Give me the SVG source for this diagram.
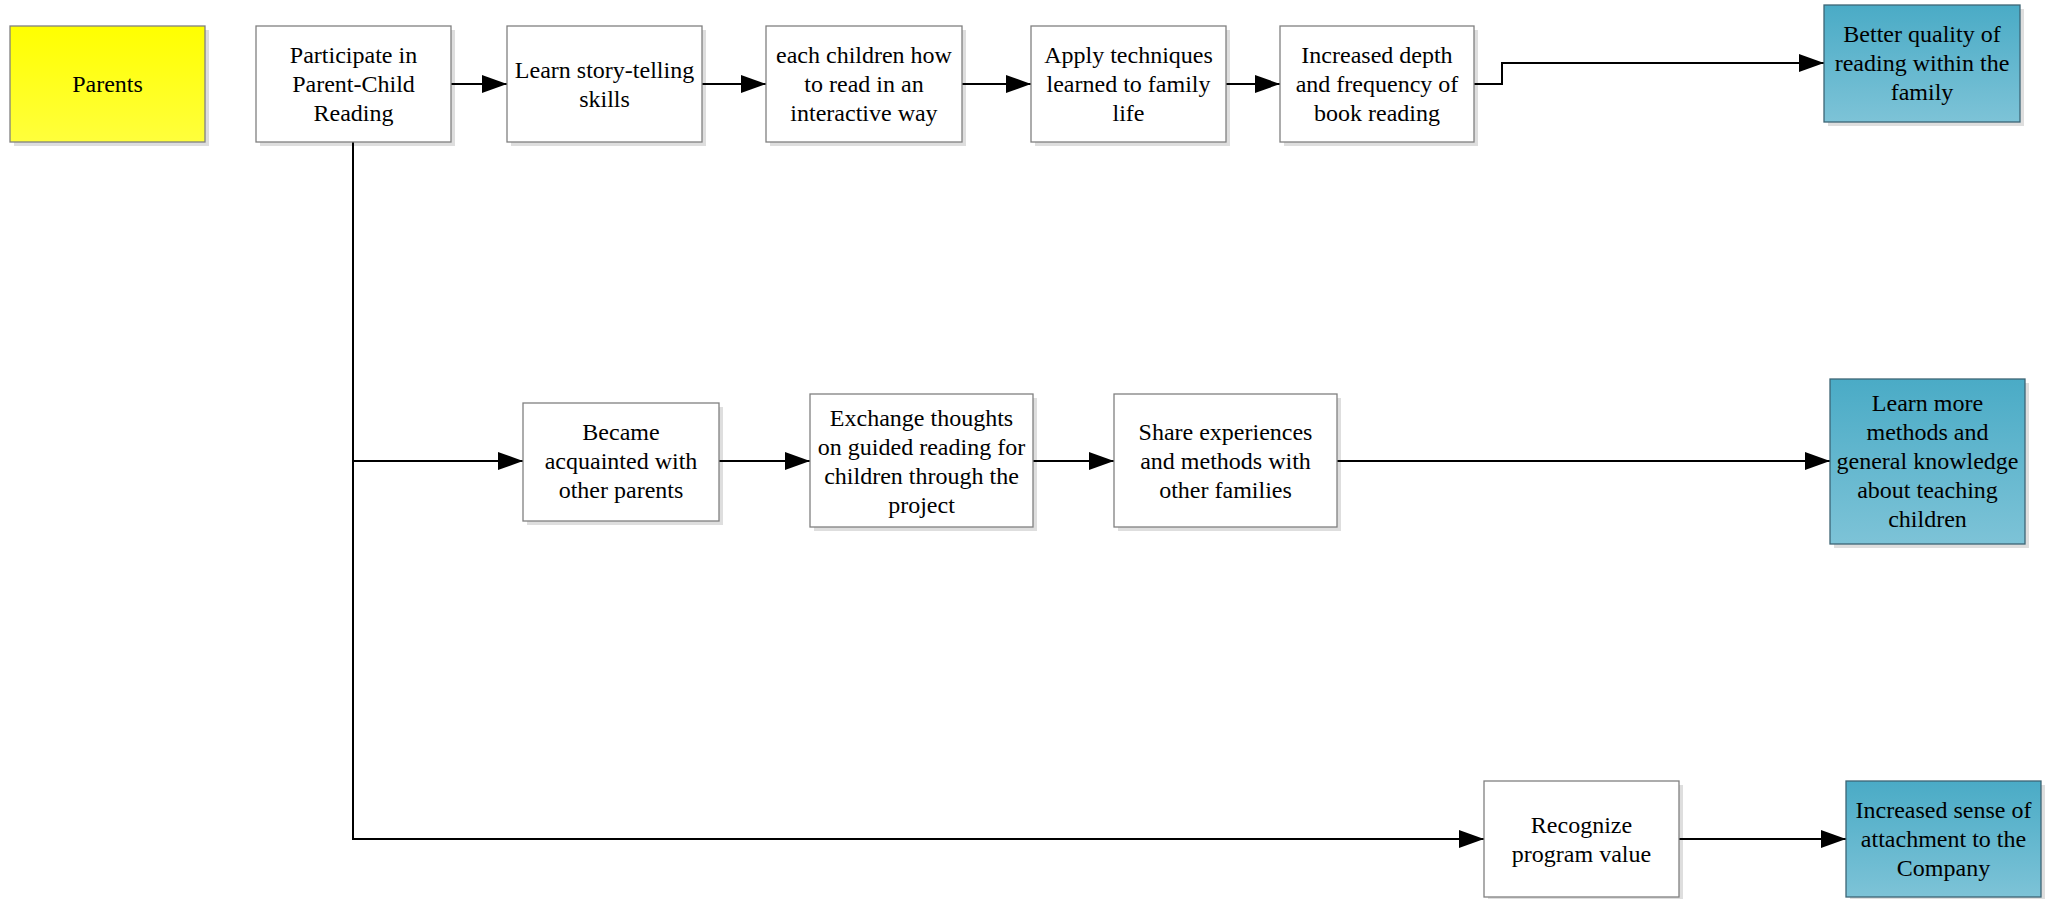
<svg xmlns="http://www.w3.org/2000/svg" width="2060" height="899" viewBox="0 0 2060 899">
<defs>
<linearGradient id="teal" x1="0" y1="0" x2="0" y2="1"><stop offset="0" stop-color="#4AABC6"/><stop offset="1" stop-color="#7DC3D7"/></linearGradient>
<linearGradient id="yel" x1="0" y1="0" x2="0" y2="1"><stop offset="0" stop-color="#FFFF00"/><stop offset="1" stop-color="#FFFF3C"/></linearGradient>
<marker id="ah" markerWidth="25" markerHeight="18" refX="25" refY="9" orient="auto" markerUnits="userSpaceOnUse"><path d="M0,0 L25,9 L0,18 Z" fill="#000"/></marker>
<style>
.sh{fill:#000;opacity:0.13}
.w{fill:#fff;stroke:#808080;stroke-width:1.3}
.t{fill:url(#teal);stroke:#3D6575;stroke-width:1.3}
.y{fill:url(#yel);stroke:#808080;stroke-width:1.3}
.lbl text{font-family:'Liberation Serif','Times New Roman','DejaVu Serif',serif;font-size:24px;fill:#000;text-anchor:middle}
.c{fill:none;stroke:#000;stroke-width:2}
</style>
</defs>
<rect width="2060" height="899" fill="#fff"/>
<g id="connectors">
<path class="c" d="M451,84 H507" marker-end="url(#ah)"/>
<path class="c" d="M702,84 H766" marker-end="url(#ah)"/>
<path class="c" d="M962,84 H1031" marker-end="url(#ah)"/>
<path class="c" d="M1226,84 H1280" marker-end="url(#ah)"/>
<path class="c" d="M1474,84 H1502 V63 H1824" marker-end="url(#ah)"/>
<path class="c" d="M353,142 V839 H1484" marker-end="url(#ah)"/>
<path class="c" d="M353,461 H523" marker-end="url(#ah)"/>
<path class="c" d="M719,461 H810" marker-end="url(#ah)"/>
<path class="c" d="M1033,461 H1114" marker-end="url(#ah)"/>
<path class="c" d="M1337,461 H1830" marker-end="url(#ah)"/>
<path class="c" d="M1679,839 H1846" marker-end="url(#ah)"/>
</g>
<g class="lbl" font-family="Liberation Serif, Times New Roman, DejaVu Serif, serif" font-size="24" text-anchor="middle">
<g id="parents"><rect class="sh" x="14" y="30" width="195" height="116"/><rect class="y" x="10" y="26" width="195" height="116"/><text x="107.5" y="92">Parents</text></g>
<g id="participate"><rect class="sh" x="260" y="30" width="195" height="116"/><rect class="w" x="256" y="26" width="195" height="116"/><text x="353.5" y="63">Participate in</text><text x="353.5" y="92">Parent-Child</text><text x="353.5" y="121">Reading</text></g>
<g id="learn-story"><rect class="sh" x="511" y="30" width="195" height="116"/><rect class="w" x="507" y="26" width="195" height="116"/><text x="604.5" y="77.5">Learn story-telling</text><text x="604.5" y="106.5">skills</text></g>
<g id="teach"><rect class="sh" x="770" y="30" width="196" height="116"/><rect class="w" x="766" y="26" width="196" height="116"/><text x="864" y="63">each children how</text><text x="864" y="92">to read in an</text><text x="864" y="121">interactive way</text></g>
<g id="apply"><rect class="sh" x="1035" y="30" width="195" height="116"/><rect class="w" x="1031" y="26" width="195" height="116"/><text x="1128.5" y="63">Apply techniques</text><text x="1128.5" y="92">learned to family</text><text x="1128.5" y="121">life</text></g>
<g id="depth"><rect class="sh" x="1284" y="30" width="194" height="116"/><rect class="w" x="1280" y="26" width="194" height="116"/><text x="1377" y="63">Increased depth</text><text x="1377" y="92">and frequency of</text><text x="1377" y="121">book reading</text></g>
<g id="better-quality"><rect class="sh" x="1828" y="9" width="196" height="117"/><rect class="t" x="1824" y="5" width="196" height="117"/><text x="1922" y="42">Better quality of</text><text x="1922" y="71">reading within the</text><text x="1922" y="100">family</text></g>
<g id="acquainted"><rect class="sh" x="527" y="407" width="196" height="118"/><rect class="w" x="523" y="403" width="196" height="118"/><text x="621" y="440">Became</text><text x="621" y="469">acquainted with</text><text x="621" y="498">other parents</text></g>
<g id="exchange"><rect class="sh" x="814" y="398" width="223" height="133"/><rect class="w" x="810" y="394" width="223" height="133"/><text x="921.5" y="425.5">Exchange thoughts</text><text x="921.5" y="454.5">on guided reading for</text><text x="921.5" y="483.5">children through the</text><text x="921.5" y="512.5">project</text></g>
<g id="share"><rect class="sh" x="1118" y="398" width="223" height="133"/><rect class="w" x="1114" y="394" width="223" height="133"/><text x="1225.5" y="440">Share experiences</text><text x="1225.5" y="469">and methods with</text><text x="1225.5" y="498">other families</text></g>
<g id="learn-more"><rect class="sh" x="1834" y="383" width="195" height="165"/><rect class="t" x="1830" y="379" width="195" height="165"/><text x="1927.5" y="411">Learn more</text><text x="1927.5" y="440">methods and</text><text x="1927.5" y="469">general knowledge</text><text x="1927.5" y="498">about teaching</text><text x="1927.5" y="527">children</text></g>
<g id="recognize"><rect class="sh" x="1488" y="785" width="195" height="116"/><rect class="w" x="1484" y="781" width="195" height="116"/><text x="1581.5" y="832.5">Recognize</text><text x="1581.5" y="861.5">program value</text></g>
<g id="attachment"><rect class="sh" x="1850" y="785" width="195" height="116"/><rect class="t" x="1846" y="781" width="195" height="116"/><text x="1943.5" y="818">Increased sense of</text><text x="1943.5" y="847">attachment to the</text><text x="1943.5" y="876">Company</text></g>
</g>
</svg>
